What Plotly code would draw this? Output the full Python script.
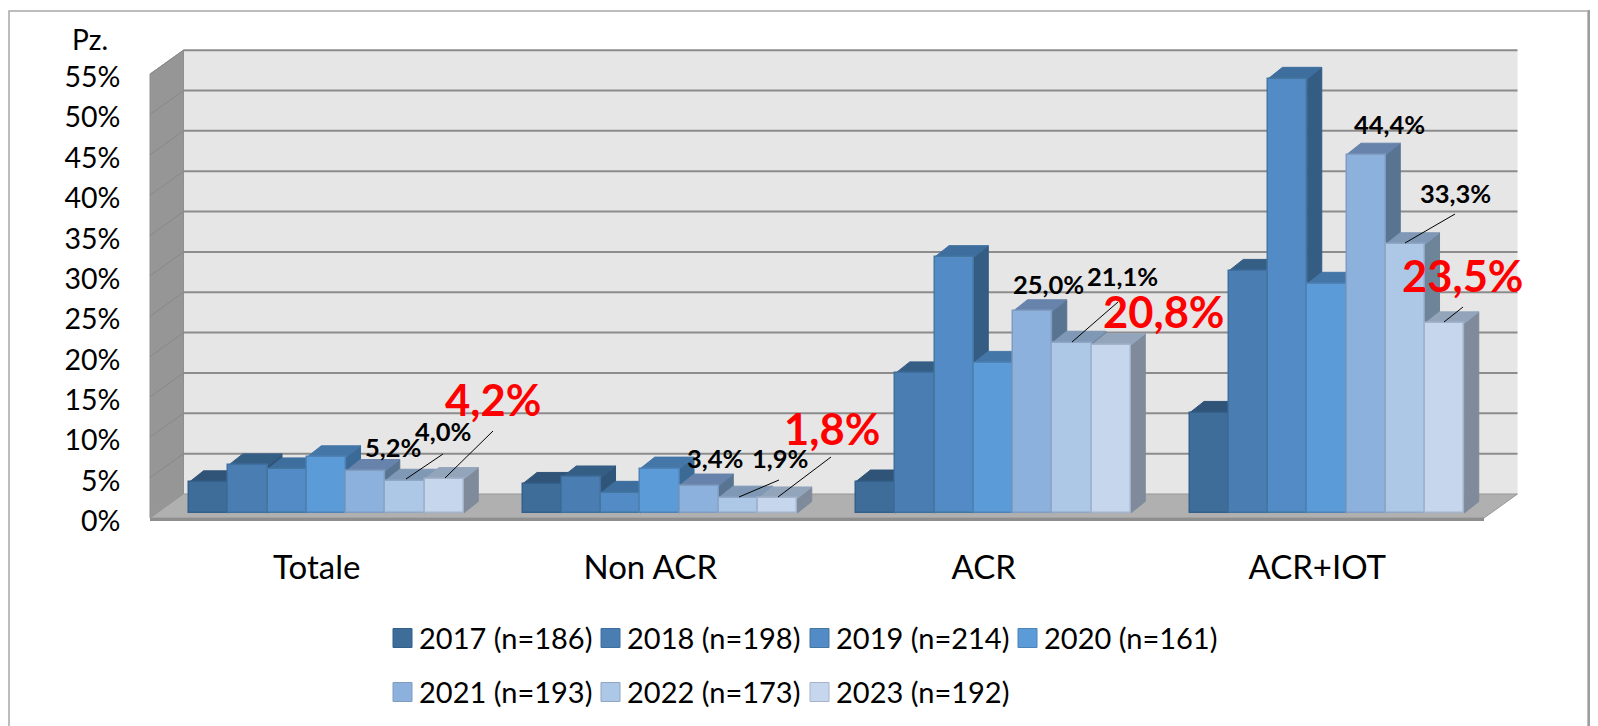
import plotly.graph_objects as go

# ---------- data ----------
categories = ["Totale", "Non ACR", "ACR", "ACR+IOT"]
series_names = ["2017 (n=186)", "2018 (n=198)", "2019 (n=214)", "2020 (n=161)",
                "2021 (n=193)", "2022 (n=173)", "2023 (n=192)"]
v2017 = [3.8, 3.6, 3.9, 12.4]
v2018 = [5.9, 4.4, 17.3, 30.0]
v2019 = [5.4, 2.5, 31.7, 53.8]
v2020 = [6.9, 5.5, 18.6, 28.4]
v2021 = [5.2, 3.4, 25.0, 44.4]
v2022 = [4.0, 1.9, 21.1, 33.3]
v2023 = [4.2, 1.8, 20.8, 23.5]
series_values = [v2017, v2018, v2019, v2020, v2021, v2022, v2023]
y_ticks = [0, 5, 10, 15, 20, 25, 30, 35, 40, 45, 50, 55]
y_ticktext = [f"{t}%" for t in y_ticks]

# ---------- styles ----------
front = ["#3F6D9A", "#4A7EB3", "#528BC5", "#5B9BD8", "#8CB1DD", "#ADC8E6", "#C6D6ED"]
edge = ["#335F88", "#3F6F9F", "#44779F", "#4F82B5", "#7F9CC0", "#8FA6C4", "#A3B3CB"]
top = ["#2F5478", "#355E85", "#3D6E9E", "#4477A8", "#6883AB", "#7F98B5", "#93A5BB"]
side = ["#2A4C6E", "#2F5578", "#355C82", "#3C6A96", "#587491", "#6E8499", "#7F8B9B"]
FONT = "Lato"
PAGE = 8                                  # the page's own margin round the figure
W, H = 1598 - PAGE, 726 - PAGE
L, R, T, B = 145, 1530, 30, 530           # plot area in reference pixels
UX = 333.5                                # pixels per category
UY = 8.07                                 # pixels per 1 %
X0 = 150                                  # front-left corner of the floor
Y0 = 518                                  # front floor line (0 %)
Y0_TICKS = 521                            # where the tick labels read 0 %
Y0_BARS = 513                             # front of the bars (0 %)
WALL_DX, WALL_DY = 33.5 / UX, 24 / UY     # depth of the box
BAR_DX, BAR_DY = 14.5 / UX, 11.5 / UY     # depth of the bars
BAR_W = 39.25 / UX
GROUP_SHIFT = -0.383

xr = [-0.5 - (X0 - L) / UX, -0.5 + (R - X0) / UX]
ywall = [-(B - Y0) / UY, (Y0 - T) / UY]
ybars = [-(B - Y0_BARS) / UY, (Y0_BARS - T) / UY]
yticks = [-(B - Y0_TICKS) / UY, (Y0_TICKS - T) / UY]


def fx(px):
    return (px - L) / (R - L)


def fy(py):
    return (B - py) / (B - T)


def poly(points, fill, xref="x", yref="y", line=None, width=0, layer="below"):
    path = "M" + "L".join(f"{a},{b}" for a, b in points) + "Z"
    return dict(type="path", path=path, xref=xref, yref=yref, fillcolor=fill, layer=layer,
                line=dict(color=line or fill, width=width))


shapes = []
# outer frame: thin top and left, heavy band on the right
shapes.append(dict(type="rect", xref="paper", yref="paper", layer="below",
                   x0=fx(9), x1=fx(1588), y0=fy(11), y1=fy(760),
                   line=dict(color="#A8A8A8", width=1.5), fillcolor="#FFFFFF"))
shapes.append(dict(type="rect", xref="paper", yref="paper", layer="below",
                   x0=fx(1588), x1=fx(1600), y0=fy(10), y1=fy(760),
                   line=dict(width=0), fillcolor="#9E9E9E"))

xa, xb = -0.5, 3.5
ymax = y_ticks[-1]
# back wall, side wall, floor
shapes.append(poly([(xa + WALL_DX, WALL_DY), (xb + WALL_DX, WALL_DY),
                    (xb + WALL_DX, ymax + WALL_DY), (xa + WALL_DX, ymax + WALL_DY)], "#E6E6E6"))
shapes.append(poly([(xa, 0), (xa + WALL_DX, WALL_DY), (xa + WALL_DX, ymax + WALL_DY), (xa, ymax)],
                   "#969696", line="#8F8F8F", width=1))
shapes.append(poly([(xa, 0), (xb, 0), (xb + WALL_DX, WALL_DY), (xa + WALL_DX, WALL_DY)],
                   "#B0B0B0", line="#969696", width=1))
# slab edge under the floor
shapes.append(poly([(xa, 0), (xb, 0), (xb, -3 / UY), (xa, -3 / UY)], "#8E8E8E"))
# gridlines
for t in y_ticks:
    if t:
        shapes.append(dict(type="line", xref="x", yref="y", layer="below",
                           x0=xa + WALL_DX, x1=xb + WALL_DX, y0=t + WALL_DY, y1=t + WALL_DY,
                           line=dict(color="#8C8C8C", width=2)))
        shapes.append(dict(type="line", xref="x", yref="y", layer="below",
                           x0=xa, x1=xa + WALL_DX, y0=t, y1=t + WALL_DY,
                           line=dict(color="#888888", width=1)))

fig = go.Figure()
n_cat = len(categories)
for j, (name, vals) in enumerate(zip(series_names, series_values)):
    off = GROUP_SHIFT + j * BAR_W
    fig.add_trace(go.Bar(
        x=list(range(n_cat)), y=vals, name=name, yaxis="y2", width=BAR_W, offset=off,
        marker=dict(color=front[j], line=dict(color=edge[j], width=1.5)), showlegend=False))
    for k, v in enumerate(vals):
        x1 = k + off
        x2 = x1 + BAR_W
        shapes.append(poly([(x2, 0), (x2 + BAR_DX, BAR_DY), (x2 + BAR_DX, v + BAR_DY), (x2, v)],
                           side[j], yref="y2", line=side[j], width=1))
        shapes.append(poly([(x1, v), (x2, v), (x2 + BAR_DX, v + BAR_DY), (x1 + BAR_DX, v + BAR_DY)],
                           top[j], yref="y2", line=top[j], width=1))

# an empty trace keeps the axis that carries the tick labels alive
fig.add_trace(go.Scatter(x=[None], y=[None], yaxis="y3", showlegend=False, hoverinfo="skip"))

# ---------- annotations ----------
annotations = []


def label(text, cx, cy, size=24, color="#000000", bold=True):
    annotations.append(dict(text=f"<b>{text}</b>" if bold else text, xref="paper", yref="paper",
                            x=fx(cx), y=fy(cy), xanchor="center", yanchor="middle", showarrow=False,
                            font=dict(family=FONT, size=size, color=color)))


def pct(v):
    return f"{v:.1f}%".replace(".", ",")


# (series index, category index) -> label centre on the page
small_labels = [(4, 0, 393, 447), (5, 0, 443, 431), (4, 1, 715, 458), (5, 1, 780, 458),
                (4, 2, 1048, 284), (5, 2, 1122, 276), (4, 3, 1389, 124), (5, 3, 1455, 193)]
big_labels = [(6, 0, 493, 399), (6, 1, 832, 428), (6, 2, 1164, 311), (6, 3, 1463, 275)]
for s, c, cx, cy in small_labels:
    label(pct(series_values[s][c]), cx, cy, size=25.5)
for s, c, cx, cy in big_labels:
    label(pct(series_values[s][c]), cx, cy, size=43.5, color="#FF0000")
label("Pz.", 90, 39, size=28, bold=False)

leaders = [(443, 454, 406, 479), (493, 431, 445, 478), (779, 480, 739, 497), (831, 457, 778, 497),
           (1118, 302, 1072, 342), (1455, 214, 1405, 243), (1463, 307, 1444, 322)]
for a, b, c, d in leaders:
    shapes.append(dict(type="line", xref="paper", yref="paper", layer="above",
                       x0=fx(a), y0=fy(b), x1=fx(c), y1=fy(d), line=dict(color="#000000", width=1)))

# legend, two rows
legend_slots = [(393, 638), (601, 638), (810, 638), (1018, 638), (393, 692), (601, 692), (810, 692)]
for j, (name, (sx, sy)) in enumerate(zip(series_names, legend_slots)):
    shapes.append(dict(type="rect", xref="paper", yref="paper", layer="above",
                       x0=fx(sx), x1=fx(sx + 19), y0=fy(sy - 9.5), y1=fy(sy + 9.5),
                       fillcolor=front[j], line=dict(color=edge[j], width=1)))
    annotations.append(dict(text=name, xref="paper", yref="paper", x=fx(sx + 24), y=fy(sy - 1),
                            xanchor="left", yanchor="middle", showarrow=False,
                            font=dict(family=FONT, size=29, color="#000000")))

fig.update_layout(
    width=W, height=H, autosize=False,
    margin=dict(l=L - PAGE, r=W + PAGE - R, t=T - PAGE, b=H + PAGE - B, pad=0),
    paper_bgcolor="#FFFFFF", plot_bgcolor="rgba(0,0,0,0)",
    barmode="overlay", bargap=0,
    font=dict(family=FONT, size=26, color="#000000"),
    xaxis=dict(range=xr, tickmode="array", tickvals=list(range(n_cat)), ticktext=categories,
               showgrid=False, zeroline=False, showline=False, ticks="outside", ticklen=8,
               tickcolor="rgba(0,0,0,0)", tickfont=dict(family=FONT, size=33)),
    yaxis=dict(range=ywall, visible=False),
    yaxis2=dict(range=ybars, overlaying="y", visible=False),
    yaxis3=dict(range=yticks, overlaying="y", tickmode="array", tickvals=y_ticks, ticktext=y_ticktext,
                showgrid=False, zeroline=False, showline=False, ticks="outside", ticklen=18,
                tickcolor="rgba(0,0,0,0)", tickfont=dict(family=FONT, size=28.5)),
    shapes=shapes, annotations=annotations,
)
fig.write_html("out.html")
